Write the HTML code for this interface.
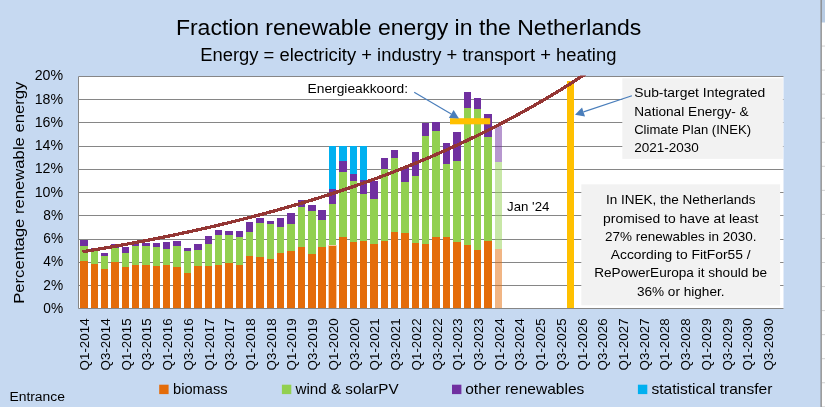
<!DOCTYPE html>
<html><head><meta charset="utf-8"><title>Fraction renewable energy in the Netherlands</title>
<style>html,body{margin:0;padding:0;background:#c6d9f1;overflow:hidden}body{width:825px;height:407px;font-family:"Liberation Sans",sans-serif}</style>
</head><body>
<svg width="825" height="407" viewBox="0 0 825 407" style="display:block;will-change:transform">
<rect x="0" y="0" width="825" height="407" fill="#c6d9f1"/>
<rect x="821" y="0" width="4" height="407" fill="#ffffff"/>
<rect x="821" y="0" width="4" height="22.5" fill="#b8cce4"/>
<rect x="822" y="45.55" width="3" height="1" fill="#d4d4d4"/>
<rect x="822" y="69.6" width="3" height="1" fill="#d4d4d4"/>
<rect x="822" y="93.65" width="3" height="1" fill="#d4d4d4"/>
<rect x="822" y="117.7" width="3" height="1" fill="#d4d4d4"/>
<rect x="822" y="141.75" width="3" height="1" fill="#d4d4d4"/>
<rect x="822" y="165.8" width="3" height="1" fill="#d4d4d4"/>
<rect x="822" y="189.85" width="3" height="1" fill="#d4d4d4"/>
<rect x="822" y="213.9" width="3" height="1" fill="#d4d4d4"/>
<rect x="822" y="237.95000000000002" width="3" height="1" fill="#d4d4d4"/>
<rect x="822" y="262.0" width="3" height="1" fill="#d4d4d4"/>
<rect x="822" y="286.05" width="3" height="1" fill="#d4d4d4"/>
<rect x="822" y="310.1" width="3" height="1" fill="#d4d4d4"/>
<rect x="822" y="334.15000000000003" width="3" height="1" fill="#d4d4d4"/>
<rect x="822" y="358.2" width="3" height="1" fill="#d4d4d4"/>
<rect x="822" y="382.25" width="3" height="1" fill="#d4d4d4"/>
<rect x="822" y="406.3" width="3" height="1" fill="#d4d4d4"/>
<rect x="820.5" y="0" width="1.3" height="407" fill="#868686"/>
<rect x="78.5" y="76.5" width="705.0" height="232.0" fill="#ffffff"/>
<line x1="78.5" x2="783.5" y1="308.50" y2="308.50" stroke="#868686" stroke-width="1"/>
<line x1="78.5" x2="783.5" y1="285.50" y2="285.50" stroke="#868686" stroke-width="1"/>
<line x1="78.5" x2="783.5" y1="262.50" y2="262.50" stroke="#868686" stroke-width="1"/>
<line x1="78.5" x2="783.5" y1="239.50" y2="239.50" stroke="#868686" stroke-width="1"/>
<line x1="78.5" x2="783.5" y1="215.50" y2="215.50" stroke="#868686" stroke-width="1"/>
<line x1="78.5" x2="783.5" y1="192.50" y2="192.50" stroke="#868686" stroke-width="1"/>
<line x1="78.5" x2="783.5" y1="169.50" y2="169.50" stroke="#868686" stroke-width="1"/>
<line x1="78.5" x2="783.5" y1="146.50" y2="146.50" stroke="#868686" stroke-width="1"/>
<line x1="78.5" x2="783.5" y1="122.50" y2="122.50" stroke="#868686" stroke-width="1"/>
<line x1="78.5" x2="783.5" y1="99.50" y2="99.50" stroke="#868686" stroke-width="1"/>
<line x1="78.5" x2="783.5" y1="76.50" y2="76.50" stroke="#868686" stroke-width="1"/>
<line x1="78.5" x2="78.5" y1="76.5" y2="308.5" stroke="#868686" stroke-width="1"/>
<rect x="80" y="261" width="8" height="47" fill="#e46c0a"/>
<rect x="80" y="246" width="8" height="15" fill="#92d050"/>
<rect x="80" y="240" width="8" height="6" fill="#7030a0"/>
<rect x="91" y="264" width="7" height="44" fill="#e46c0a"/>
<rect x="91" y="249" width="7" height="15" fill="#92d050"/>
<rect x="91" y="248" width="7" height="1" fill="#7030a0"/>
<rect x="101" y="269" width="7" height="39" fill="#e46c0a"/>
<rect x="101" y="256" width="7" height="13" fill="#92d050"/>
<rect x="101" y="253" width="7" height="3" fill="#7030a0"/>
<rect x="111" y="262" width="8" height="46" fill="#e46c0a"/>
<rect x="111" y="248" width="8" height="14" fill="#92d050"/>
<rect x="111" y="244" width="8" height="4" fill="#7030a0"/>
<rect x="122" y="267" width="7" height="41" fill="#e46c0a"/>
<rect x="122" y="253" width="7" height="14" fill="#92d050"/>
<rect x="122" y="247" width="7" height="6" fill="#7030a0"/>
<rect x="132" y="265" width="7" height="43" fill="#e46c0a"/>
<rect x="132" y="246" width="7" height="19" fill="#92d050"/>
<rect x="132" y="243" width="7" height="3" fill="#7030a0"/>
<rect x="142" y="265" width="8" height="43" fill="#e46c0a"/>
<rect x="142" y="246" width="8" height="19" fill="#92d050"/>
<rect x="142" y="243" width="8" height="3" fill="#7030a0"/>
<rect x="153" y="266" width="7" height="42" fill="#e46c0a"/>
<rect x="153" y="247" width="7" height="19" fill="#92d050"/>
<rect x="153" y="243" width="7" height="4" fill="#7030a0"/>
<rect x="163" y="265" width="7" height="43" fill="#e46c0a"/>
<rect x="163" y="249" width="7" height="16" fill="#92d050"/>
<rect x="163" y="242" width="7" height="7" fill="#7030a0"/>
<rect x="173" y="267" width="8" height="41" fill="#e46c0a"/>
<rect x="173" y="246" width="8" height="21" fill="#92d050"/>
<rect x="173" y="241" width="8" height="5" fill="#7030a0"/>
<rect x="184" y="273" width="7" height="35" fill="#e46c0a"/>
<rect x="184" y="251" width="7" height="22" fill="#92d050"/>
<rect x="184" y="248" width="7" height="3" fill="#7030a0"/>
<rect x="194" y="266" width="8" height="42" fill="#e46c0a"/>
<rect x="194" y="250" width="8" height="16" fill="#92d050"/>
<rect x="194" y="244" width="8" height="6" fill="#7030a0"/>
<rect x="205" y="266" width="7" height="42" fill="#e46c0a"/>
<rect x="205" y="244" width="7" height="22" fill="#92d050"/>
<rect x="205" y="236" width="7" height="8" fill="#7030a0"/>
<rect x="215" y="265" width="7" height="43" fill="#e46c0a"/>
<rect x="215" y="235" width="7" height="30" fill="#92d050"/>
<rect x="215" y="230" width="7" height="5" fill="#7030a0"/>
<rect x="225" y="263" width="8" height="45" fill="#e46c0a"/>
<rect x="225" y="235" width="8" height="28" fill="#92d050"/>
<rect x="225" y="231" width="8" height="4" fill="#7030a0"/>
<rect x="236" y="265" width="7" height="43" fill="#e46c0a"/>
<rect x="236" y="237" width="7" height="28" fill="#92d050"/>
<rect x="236" y="231" width="7" height="6" fill="#7030a0"/>
<rect x="246" y="256" width="7" height="52" fill="#e46c0a"/>
<rect x="246" y="232" width="7" height="24" fill="#92d050"/>
<rect x="246" y="222" width="7" height="10" fill="#7030a0"/>
<rect x="256" y="257" width="8" height="51" fill="#e46c0a"/>
<rect x="256" y="223" width="8" height="34" fill="#92d050"/>
<rect x="256" y="218" width="8" height="5" fill="#7030a0"/>
<rect x="267" y="259" width="7" height="49" fill="#e46c0a"/>
<rect x="267" y="224" width="7" height="35" fill="#92d050"/>
<rect x="267" y="221" width="7" height="3" fill="#7030a0"/>
<rect x="277" y="253" width="7" height="55" fill="#e46c0a"/>
<rect x="277" y="227" width="7" height="26" fill="#92d050"/>
<rect x="277" y="218" width="7" height="9" fill="#7030a0"/>
<rect x="287" y="251" width="8" height="57" fill="#e46c0a"/>
<rect x="287" y="224" width="8" height="27" fill="#92d050"/>
<rect x="287" y="213" width="8" height="11" fill="#7030a0"/>
<rect x="298" y="247" width="7" height="61" fill="#e46c0a"/>
<rect x="298" y="207" width="7" height="40" fill="#92d050"/>
<rect x="298" y="200" width="7" height="7" fill="#7030a0"/>
<rect x="308" y="254" width="8" height="54" fill="#e46c0a"/>
<rect x="308" y="211" width="8" height="43" fill="#92d050"/>
<rect x="308" y="205" width="8" height="6" fill="#7030a0"/>
<rect x="318" y="247" width="8" height="61" fill="#e46c0a"/>
<rect x="318" y="220" width="8" height="27" fill="#92d050"/>
<rect x="318" y="210" width="8" height="10" fill="#7030a0"/>
<rect x="329" y="245" width="7" height="63" fill="#e46c0a"/>
<path d="M328.5,308 V245.5 H336.5 V308" fill="none" stroke="#f9c8a0" stroke-width="1"/>
<rect x="329" y="204" width="7" height="41" fill="#92d050"/>
<rect x="329" y="189" width="7" height="15" fill="#7030a0"/>
<rect x="329" y="146" width="7" height="43" fill="#00b0f0"/>
<rect x="339" y="237" width="8" height="71" fill="#e46c0a"/>
<rect x="339" y="172" width="8" height="65" fill="#92d050"/>
<rect x="339" y="161" width="8" height="11" fill="#7030a0"/>
<rect x="339" y="146" width="8" height="15" fill="#00b0f0"/>
<rect x="350" y="242" width="7" height="66" fill="#e46c0a"/>
<rect x="350" y="181" width="7" height="61" fill="#92d050"/>
<rect x="350" y="174" width="7" height="7" fill="#7030a0"/>
<rect x="350" y="146" width="7" height="28" fill="#00b0f0"/>
<rect x="360" y="241" width="7" height="67" fill="#e46c0a"/>
<rect x="360" y="194" width="7" height="47" fill="#92d050"/>
<rect x="360" y="180" width="7" height="14" fill="#7030a0"/>
<rect x="360" y="146" width="7" height="34" fill="#00b0f0"/>
<rect x="370" y="244" width="8" height="64" fill="#e46c0a"/>
<rect x="370" y="199" width="8" height="45" fill="#92d050"/>
<rect x="370" y="181" width="8" height="18" fill="#7030a0"/>
<rect x="381" y="241" width="7" height="67" fill="#e46c0a"/>
<rect x="381" y="169" width="7" height="72" fill="#92d050"/>
<rect x="381" y="158" width="7" height="11" fill="#7030a0"/>
<rect x="391" y="232" width="7" height="76" fill="#e46c0a"/>
<rect x="391" y="158" width="7" height="74" fill="#92d050"/>
<rect x="391" y="150" width="7" height="8" fill="#7030a0"/>
<rect x="401" y="233" width="8" height="75" fill="#e46c0a"/>
<rect x="401" y="182" width="8" height="51" fill="#92d050"/>
<rect x="401" y="167" width="8" height="15" fill="#7030a0"/>
<rect x="412" y="243" width="7" height="65" fill="#e46c0a"/>
<rect x="412" y="176" width="7" height="67" fill="#92d050"/>
<rect x="412" y="152" width="7" height="24" fill="#7030a0"/>
<rect x="422" y="244" width="7" height="64" fill="#e46c0a"/>
<rect x="422" y="136" width="7" height="108" fill="#92d050"/>
<rect x="422" y="123" width="7" height="13" fill="#7030a0"/>
<rect x="432" y="237" width="8" height="71" fill="#e46c0a"/>
<rect x="432" y="131" width="8" height="106" fill="#92d050"/>
<rect x="432" y="122" width="8" height="9" fill="#7030a0"/>
<rect x="443" y="237" width="7" height="71" fill="#e46c0a"/>
<rect x="443" y="164" width="7" height="73" fill="#92d050"/>
<rect x="443" y="143" width="7" height="21" fill="#7030a0"/>
<rect x="453" y="242" width="8" height="66" fill="#e46c0a"/>
<rect x="453" y="161" width="8" height="81" fill="#92d050"/>
<rect x="453" y="132" width="8" height="29" fill="#7030a0"/>
<rect x="464" y="245" width="7" height="63" fill="#e46c0a"/>
<rect x="464" y="108" width="7" height="137" fill="#92d050"/>
<rect x="464" y="92" width="7" height="16" fill="#7030a0"/>
<rect x="474" y="250" width="7" height="58" fill="#e46c0a"/>
<rect x="474" y="109" width="7" height="141" fill="#92d050"/>
<rect x="474" y="98" width="7" height="11" fill="#7030a0"/>
<rect x="484" y="241" width="8" height="67" fill="#e46c0a"/>
<rect x="484" y="137" width="8" height="104" fill="#92d050"/>
<rect x="484" y="114" width="8" height="23" fill="#7030a0"/>
<rect x="495" y="249" width="7" height="59" fill="#e46c0a" fill-opacity="0.5"/>
<rect x="495" y="162" width="7" height="87" fill="#92d050" fill-opacity="0.5"/>
<rect x="495" y="126" width="7" height="36" fill="#7030a0" fill-opacity="0.5"/>
<rect x="622.3" y="78.3" width="160.6" height="80.6" fill="#f2f2f2"/>
<rect x="581.3" y="184.3" width="198.8" height="121" fill="#f2f2f2"/>
<rect x="567" y="81" width="7" height="227" fill="#ffc000"/>
<rect x="450" y="118.2" width="40.2" height="6.1" fill="#ffc000"/>
<clipPath id="pc"><rect x="78.5" y="75.5" width="705.0" height="233.0"/></clipPath>
<path d="M83.88,251.50 L89.06,250.65 L94.24,249.80 L99.42,248.94 L104.60,248.06 L109.78,247.17 L114.96,246.26 L120.14,245.34 L125.32,244.41 L130.50,243.47 L135.68,242.51 L140.86,241.53 L146.04,240.55 L151.22,239.55 L156.40,238.53 L161.58,237.50 L166.77,236.45 L171.95,235.39 L177.13,234.31 L182.31,233.22 L187.49,232.11 L192.67,230.98 L197.85,229.84 L203.03,228.68 L208.21,227.51 L213.39,226.31 L218.57,225.10 L223.75,223.88 L228.93,222.63 L234.11,221.36 L239.29,220.08 L244.47,218.78 L249.65,217.46 L254.83,216.12 L260.01,214.76 L265.19,213.38 L270.37,211.98 L275.55,210.56 L280.73,209.11 L285.91,207.65 L291.09,206.17 L296.27,204.66 L301.45,203.13 L306.63,201.58 L311.81,200.01 L316.99,198.41 L322.17,196.79 L327.35,195.15 L332.53,193.48 L337.71,191.79 L342.90,190.07 L348.08,188.33 L353.26,186.56 L358.44,184.76 L363.62,182.94 L368.80,181.10 L373.98,179.22 L379.16,177.32 L384.34,175.39 L389.52,173.43 L394.70,171.44 L399.88,169.43 L405.06,167.38 L410.24,165.31 L415.42,163.20 L420.60,161.06 L425.78,158.90 L430.96,156.70 L436.14,154.46 L441.32,152.20 L446.50,149.90 L451.68,147.57 L456.86,145.20 L462.04,142.80 L467.22,140.36 L472.40,137.89 L477.58,135.38 L482.76,132.84 L487.94,130.26 L493.12,127.64 L498.30,124.98 L503.48,122.28 L508.66,119.54 L513.85,116.76 L519.03,113.95 L524.21,111.09 L529.39,108.18 L534.57,105.24 L539.75,102.25 L544.93,99.22 L550.11,96.15 L555.29,93.02 L560.47,89.86 L565.65,86.64 L570.83,83.38 L576.01,80.07 L581.19,76.72 L586.37,73.31 L591.55,69.86 L596.73,66.35 L601.91,62.79" fill="none" stroke="#943634" stroke-width="3.3" shape-rendering="crispEdges" stroke-linecap="round" stroke-linejoin="round" clip-path="url(#pc)"/>
<line x1="414.20" y1="92.30" x2="451.23" y2="113.96" stroke="#4a7ebb" stroke-width="1.2"/>
<polygon points="459.00,118.50 448.86,118.01 453.60,109.90" fill="#4a7ebb"/>
<line x1="631.90" y1="95.70" x2="583.53" y2="111.94" stroke="#4a7ebb" stroke-width="1.2"/>
<polygon points="575.00,114.80 582.04,107.48 585.03,116.39" fill="#4a7ebb"/>
<text x="175.90" y="34.70" font-family="Liberation Sans, sans-serif" font-size="21.6" fill="#000000" text-anchor="start" textLength="465.4" lengthAdjust="spacingAndGlyphs">Fraction renewable energy in the Netherlands</text>
<text x="200.20" y="60.60" font-family="Liberation Sans, sans-serif" font-size="17.5" fill="#000000" text-anchor="start" textLength="416.2" lengthAdjust="spacingAndGlyphs">Energy = electricity + industry + transport + heating</text>
<text x="43.30" y="313.00" font-family="Liberation Sans, sans-serif" font-size="14.6" fill="#000000" text-anchor="start" textLength="19.8" lengthAdjust="spacingAndGlyphs">0%</text>
<text x="43.30" y="289.73" font-family="Liberation Sans, sans-serif" font-size="14.6" fill="#000000" text-anchor="start" textLength="19.8" lengthAdjust="spacingAndGlyphs">2%</text>
<text x="43.30" y="266.46" font-family="Liberation Sans, sans-serif" font-size="14.6" fill="#000000" text-anchor="start" textLength="19.8" lengthAdjust="spacingAndGlyphs">4%</text>
<text x="43.30" y="243.19" font-family="Liberation Sans, sans-serif" font-size="14.6" fill="#000000" text-anchor="start" textLength="19.8" lengthAdjust="spacingAndGlyphs">6%</text>
<text x="43.30" y="219.92" font-family="Liberation Sans, sans-serif" font-size="14.6" fill="#000000" text-anchor="start" textLength="19.8" lengthAdjust="spacingAndGlyphs">8%</text>
<text x="34.70" y="196.65" font-family="Liberation Sans, sans-serif" font-size="14.6" fill="#000000" text-anchor="start" textLength="28.4" lengthAdjust="spacingAndGlyphs">10%</text>
<text x="34.70" y="173.38" font-family="Liberation Sans, sans-serif" font-size="14.6" fill="#000000" text-anchor="start" textLength="28.4" lengthAdjust="spacingAndGlyphs">12%</text>
<text x="34.70" y="150.11" font-family="Liberation Sans, sans-serif" font-size="14.6" fill="#000000" text-anchor="start" textLength="28.4" lengthAdjust="spacingAndGlyphs">14%</text>
<text x="34.70" y="126.84" font-family="Liberation Sans, sans-serif" font-size="14.6" fill="#000000" text-anchor="start" textLength="28.4" lengthAdjust="spacingAndGlyphs">16%</text>
<text x="34.70" y="103.57" font-family="Liberation Sans, sans-serif" font-size="14.6" fill="#000000" text-anchor="start" textLength="28.4" lengthAdjust="spacingAndGlyphs">18%</text>
<text x="34.70" y="80.30" font-family="Liberation Sans, sans-serif" font-size="14.6" fill="#000000" text-anchor="start" textLength="28.4" lengthAdjust="spacingAndGlyphs">20%</text>
<g transform="translate(24,303.8) rotate(-90)">
<text x="0.00" y="0.00" font-family="Liberation Sans, sans-serif" font-size="14.4" fill="#000000" text-anchor="start" textLength="222.2" lengthAdjust="spacingAndGlyphs">Percentage renewable energy</text>
</g>
<g transform="translate(89.28,370.4) rotate(-90)">
<text x="0.00" y="0.00" font-family="Liberation Sans, sans-serif" font-size="13.2" fill="#000000" text-anchor="start" textLength="52.0" lengthAdjust="spacingAndGlyphs">Q1-2014</text>
</g>
<g transform="translate(110.00,370.4) rotate(-90)">
<text x="0.00" y="0.00" font-family="Liberation Sans, sans-serif" font-size="13.2" fill="#000000" text-anchor="start" textLength="52.0" lengthAdjust="spacingAndGlyphs">Q3-2014</text>
</g>
<g transform="translate(130.72,370.4) rotate(-90)">
<text x="0.00" y="0.00" font-family="Liberation Sans, sans-serif" font-size="13.2" fill="#000000" text-anchor="start" textLength="52.0" lengthAdjust="spacingAndGlyphs">Q1-2015</text>
</g>
<g transform="translate(151.45,370.4) rotate(-90)">
<text x="0.00" y="0.00" font-family="Liberation Sans, sans-serif" font-size="13.2" fill="#000000" text-anchor="start" textLength="52.0" lengthAdjust="spacingAndGlyphs">Q3-2015</text>
</g>
<g transform="translate(172.17,370.4) rotate(-90)">
<text x="0.00" y="0.00" font-family="Liberation Sans, sans-serif" font-size="13.2" fill="#000000" text-anchor="start" textLength="52.0" lengthAdjust="spacingAndGlyphs">Q1-2016</text>
</g>
<g transform="translate(192.89,370.4) rotate(-90)">
<text x="0.00" y="0.00" font-family="Liberation Sans, sans-serif" font-size="13.2" fill="#000000" text-anchor="start" textLength="52.0" lengthAdjust="spacingAndGlyphs">Q3-2016</text>
</g>
<g transform="translate(213.61,370.4) rotate(-90)">
<text x="0.00" y="0.00" font-family="Liberation Sans, sans-serif" font-size="13.2" fill="#000000" text-anchor="start" textLength="52.0" lengthAdjust="spacingAndGlyphs">Q1-2017</text>
</g>
<g transform="translate(234.33,370.4) rotate(-90)">
<text x="0.00" y="0.00" font-family="Liberation Sans, sans-serif" font-size="13.2" fill="#000000" text-anchor="start" textLength="52.0" lengthAdjust="spacingAndGlyphs">Q3-2017</text>
</g>
<g transform="translate(255.05,370.4) rotate(-90)">
<text x="0.00" y="0.00" font-family="Liberation Sans, sans-serif" font-size="13.2" fill="#000000" text-anchor="start" textLength="52.0" lengthAdjust="spacingAndGlyphs">Q1-2018</text>
</g>
<g transform="translate(275.77,370.4) rotate(-90)">
<text x="0.00" y="0.00" font-family="Liberation Sans, sans-serif" font-size="13.2" fill="#000000" text-anchor="start" textLength="52.0" lengthAdjust="spacingAndGlyphs">Q3-2018</text>
</g>
<g transform="translate(296.49,370.4) rotate(-90)">
<text x="0.00" y="0.00" font-family="Liberation Sans, sans-serif" font-size="13.2" fill="#000000" text-anchor="start" textLength="52.0" lengthAdjust="spacingAndGlyphs">Q1-2019</text>
</g>
<g transform="translate(317.22,370.4) rotate(-90)">
<text x="0.00" y="0.00" font-family="Liberation Sans, sans-serif" font-size="13.2" fill="#000000" text-anchor="start" textLength="52.0" lengthAdjust="spacingAndGlyphs">Q3-2019</text>
</g>
<g transform="translate(337.94,370.4) rotate(-90)">
<text x="0.00" y="0.00" font-family="Liberation Sans, sans-serif" font-size="13.2" fill="#000000" text-anchor="start" textLength="52.0" lengthAdjust="spacingAndGlyphs">Q1-2020</text>
</g>
<g transform="translate(358.66,370.4) rotate(-90)">
<text x="0.00" y="0.00" font-family="Liberation Sans, sans-serif" font-size="13.2" fill="#000000" text-anchor="start" textLength="52.0" lengthAdjust="spacingAndGlyphs">Q3-2020</text>
</g>
<g transform="translate(379.38,370.4) rotate(-90)">
<text x="0.00" y="0.00" font-family="Liberation Sans, sans-serif" font-size="13.2" fill="#000000" text-anchor="start" textLength="52.0" lengthAdjust="spacingAndGlyphs">Q1-2021</text>
</g>
<g transform="translate(400.10,370.4) rotate(-90)">
<text x="0.00" y="0.00" font-family="Liberation Sans, sans-serif" font-size="13.2" fill="#000000" text-anchor="start" textLength="52.0" lengthAdjust="spacingAndGlyphs">Q3-2021</text>
</g>
<g transform="translate(420.82,370.4) rotate(-90)">
<text x="0.00" y="0.00" font-family="Liberation Sans, sans-serif" font-size="13.2" fill="#000000" text-anchor="start" textLength="52.0" lengthAdjust="spacingAndGlyphs">Q1-2022</text>
</g>
<g transform="translate(441.54,370.4) rotate(-90)">
<text x="0.00" y="0.00" font-family="Liberation Sans, sans-serif" font-size="13.2" fill="#000000" text-anchor="start" textLength="52.0" lengthAdjust="spacingAndGlyphs">Q3-2022</text>
</g>
<g transform="translate(462.26,370.4) rotate(-90)">
<text x="0.00" y="0.00" font-family="Liberation Sans, sans-serif" font-size="13.2" fill="#000000" text-anchor="start" textLength="52.0" lengthAdjust="spacingAndGlyphs">Q1-2023</text>
</g>
<g transform="translate(482.98,370.4) rotate(-90)">
<text x="0.00" y="0.00" font-family="Liberation Sans, sans-serif" font-size="13.2" fill="#000000" text-anchor="start" textLength="52.0" lengthAdjust="spacingAndGlyphs">Q3-2023</text>
</g>
<g transform="translate(503.71,370.4) rotate(-90)">
<text x="0.00" y="0.00" font-family="Liberation Sans, sans-serif" font-size="13.2" fill="#000000" text-anchor="start" textLength="52.0" lengthAdjust="spacingAndGlyphs">Q1-2024</text>
</g>
<g transform="translate(524.43,370.4) rotate(-90)">
<text x="0.00" y="0.00" font-family="Liberation Sans, sans-serif" font-size="13.2" fill="#000000" text-anchor="start" textLength="52.0" lengthAdjust="spacingAndGlyphs">Q3-2024</text>
</g>
<g transform="translate(545.15,370.4) rotate(-90)">
<text x="0.00" y="0.00" font-family="Liberation Sans, sans-serif" font-size="13.2" fill="#000000" text-anchor="start" textLength="52.0" lengthAdjust="spacingAndGlyphs">Q1-2025</text>
</g>
<g transform="translate(565.87,370.4) rotate(-90)">
<text x="0.00" y="0.00" font-family="Liberation Sans, sans-serif" font-size="13.2" fill="#000000" text-anchor="start" textLength="52.0" lengthAdjust="spacingAndGlyphs">Q3-2025</text>
</g>
<g transform="translate(586.59,370.4) rotate(-90)">
<text x="0.00" y="0.00" font-family="Liberation Sans, sans-serif" font-size="13.2" fill="#000000" text-anchor="start" textLength="52.0" lengthAdjust="spacingAndGlyphs">Q1-2026</text>
</g>
<g transform="translate(607.31,370.4) rotate(-90)">
<text x="0.00" y="0.00" font-family="Liberation Sans, sans-serif" font-size="13.2" fill="#000000" text-anchor="start" textLength="52.0" lengthAdjust="spacingAndGlyphs">Q3-2026</text>
</g>
<g transform="translate(628.03,370.4) rotate(-90)">
<text x="0.00" y="0.00" font-family="Liberation Sans, sans-serif" font-size="13.2" fill="#000000" text-anchor="start" textLength="52.0" lengthAdjust="spacingAndGlyphs">Q1-2027</text>
</g>
<g transform="translate(648.75,370.4) rotate(-90)">
<text x="0.00" y="0.00" font-family="Liberation Sans, sans-serif" font-size="13.2" fill="#000000" text-anchor="start" textLength="52.0" lengthAdjust="spacingAndGlyphs">Q3-2027</text>
</g>
<g transform="translate(669.48,370.4) rotate(-90)">
<text x="0.00" y="0.00" font-family="Liberation Sans, sans-serif" font-size="13.2" fill="#000000" text-anchor="start" textLength="52.0" lengthAdjust="spacingAndGlyphs">Q1-2028</text>
</g>
<g transform="translate(690.20,370.4) rotate(-90)">
<text x="0.00" y="0.00" font-family="Liberation Sans, sans-serif" font-size="13.2" fill="#000000" text-anchor="start" textLength="52.0" lengthAdjust="spacingAndGlyphs">Q3-2028</text>
</g>
<g transform="translate(710.92,370.4) rotate(-90)">
<text x="0.00" y="0.00" font-family="Liberation Sans, sans-serif" font-size="13.2" fill="#000000" text-anchor="start" textLength="52.0" lengthAdjust="spacingAndGlyphs">Q1-2029</text>
</g>
<g transform="translate(731.64,370.4) rotate(-90)">
<text x="0.00" y="0.00" font-family="Liberation Sans, sans-serif" font-size="13.2" fill="#000000" text-anchor="start" textLength="52.0" lengthAdjust="spacingAndGlyphs">Q3-2029</text>
</g>
<g transform="translate(752.36,370.4) rotate(-90)">
<text x="0.00" y="0.00" font-family="Liberation Sans, sans-serif" font-size="13.2" fill="#000000" text-anchor="start" textLength="52.0" lengthAdjust="spacingAndGlyphs">Q1-2030</text>
</g>
<g transform="translate(773.08,370.4) rotate(-90)">
<text x="0.00" y="0.00" font-family="Liberation Sans, sans-serif" font-size="13.2" fill="#000000" text-anchor="start" textLength="52.0" lengthAdjust="spacingAndGlyphs">Q3-2030</text>
</g>
<rect x="159.2" y="384.7" width="9.4" height="9.4" fill="#e46c0a"/>
<text x="173.10" y="393.60" font-family="Liberation Sans, sans-serif" font-size="14.4" fill="#000000" text-anchor="start" textLength="54.4" lengthAdjust="spacingAndGlyphs">biomass</text>
<rect x="281.9" y="384.7" width="9.4" height="9.4" fill="#92d050"/>
<text x="295.50" y="393.60" font-family="Liberation Sans, sans-serif" font-size="14.4" fill="#000000" text-anchor="start" textLength="103.1" lengthAdjust="spacingAndGlyphs">wind &amp; solarPV</text>
<rect x="452.0" y="384.7" width="9.4" height="9.4" fill="#7030a0"/>
<text x="465.20" y="393.60" font-family="Liberation Sans, sans-serif" font-size="14.4" fill="#000000" text-anchor="start" textLength="119.1" lengthAdjust="spacingAndGlyphs">other renewables</text>
<rect x="637.9" y="384.7" width="9.4" height="9.4" fill="#00b0f0"/>
<text x="651.50" y="393.60" font-family="Liberation Sans, sans-serif" font-size="14.4" fill="#000000" text-anchor="start" textLength="120.9" lengthAdjust="spacingAndGlyphs">statistical transfer</text>
<text x="307.50" y="93.00" font-family="Liberation Sans, sans-serif" font-size="13.2" fill="#000000" text-anchor="start" textLength="100.5" lengthAdjust="spacingAndGlyphs">Energieakkoord:</text>
<text x="507.10" y="211.30" font-family="Liberation Sans, sans-serif" font-size="13.2" fill="#000000" text-anchor="start" textLength="42.3" lengthAdjust="spacingAndGlyphs">Jan '24</text>
<text x="9.40" y="400.80" font-family="Liberation Sans, sans-serif" font-size="12" fill="#000000" text-anchor="start" textLength="55.6" lengthAdjust="spacingAndGlyphs">Entrance</text>
<text x="634.20" y="97.30" font-family="Liberation Sans, sans-serif" font-size="13.4" fill="#000000" text-anchor="start" textLength="131.1" lengthAdjust="spacingAndGlyphs">Sub-target Integrated</text>
<text x="634.20" y="116.20" font-family="Liberation Sans, sans-serif" font-size="13.4" fill="#000000" text-anchor="start" textLength="114.5" lengthAdjust="spacingAndGlyphs">National Energy- &amp;</text>
<text x="634.20" y="134.20" font-family="Liberation Sans, sans-serif" font-size="13.4" fill="#000000" text-anchor="start" textLength="116.8" lengthAdjust="spacingAndGlyphs">Climate Plan (INEK)</text>
<text x="634.20" y="152.10" font-family="Liberation Sans, sans-serif" font-size="13.4" fill="#000000" text-anchor="start" textLength="64.7" lengthAdjust="spacingAndGlyphs">2021-2030</text>
<text x="605.90" y="204.00" font-family="Liberation Sans, sans-serif" font-size="13.4" fill="#000000" text-anchor="start" textLength="149.6" lengthAdjust="spacingAndGlyphs">In INEK, the Netherlands</text>
<text x="603.10" y="222.80" font-family="Liberation Sans, sans-serif" font-size="13.4" fill="#000000" text-anchor="start" textLength="155.2" lengthAdjust="spacingAndGlyphs">promised to have at least</text>
<text x="605.00" y="240.80" font-family="Liberation Sans, sans-serif" font-size="13.4" fill="#000000" text-anchor="start" textLength="151.4" lengthAdjust="spacingAndGlyphs">27% renewables in 2030.</text>
<text x="610.80" y="259.30" font-family="Liberation Sans, sans-serif" font-size="13.4" fill="#000000" text-anchor="start" textLength="139.8" lengthAdjust="spacingAndGlyphs">According to FitFor55 /</text>
<text x="594.25" y="277.30" font-family="Liberation Sans, sans-serif" font-size="13.4" fill="#000000" text-anchor="start" textLength="172.9" lengthAdjust="spacingAndGlyphs">RePowerEuropa it should be</text>
<text x="636.90" y="295.70" font-family="Liberation Sans, sans-serif" font-size="13.4" fill="#000000" text-anchor="start" textLength="87.6" lengthAdjust="spacingAndGlyphs">36% or higher.</text>
</svg>
</body></html>
